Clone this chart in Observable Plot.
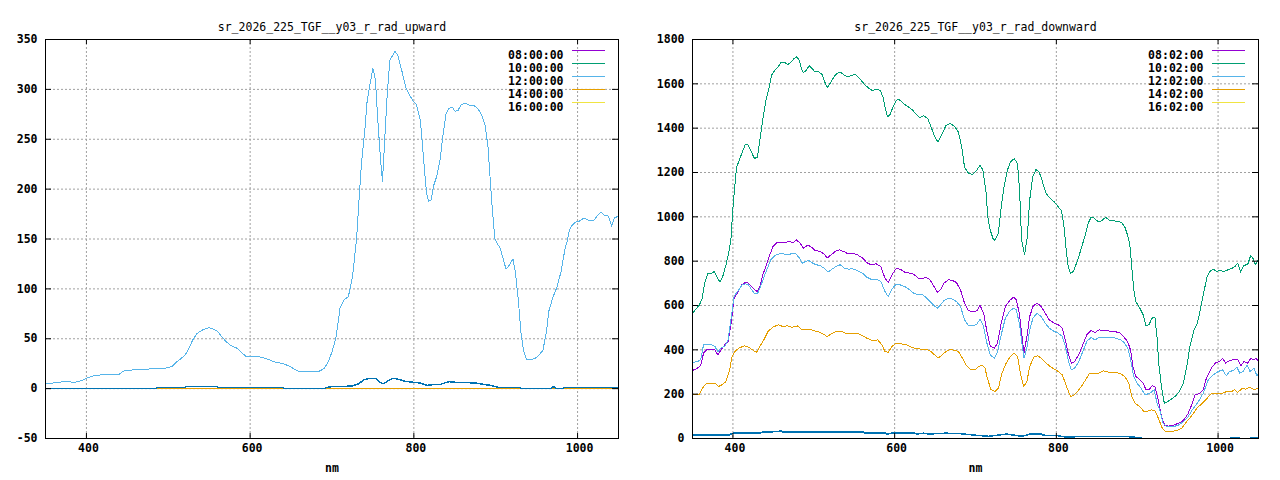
<!DOCTYPE html>
<html><head><meta charset="utf-8">
<script src="https://cdn.jsdelivr.net/npm/d3@7"></script>
<script src="https://cdn.jsdelivr.net/npm/@observablehq/plot@0.6"></script>
<style>
body{margin:0;background:#fff;}
#wrap{display:flex;width:1280px;height:480px;}
#wrap svg{display:block;}
</style></head><body><div id="wrap"></div>
<script>
// ---------- shared ----------
const xTicks = [400, 600, 800, 1000];
const xDomain = [350, 1050];
const COLORS = ["#9400d3", "#009e73", "#56b4e9", "#e69f00", "#f0e442", "#0072b2"];

// ---------- left panel: upward ----------
const upTitle = "sr_2026_225_TGF__y03_r_rad_upward";
const upLabels = ["08:00:00", "10:00:00", "12:00:00", "14:00:00", "16:00:00"];
const upYTicks = [-50, 0, 50, 100, 150, 200, 250, 300, 350];
const upYDomain = [-50, 350];
const up_08 = [[350,0],[1050,0]];
const up_10 = [[350,0],[1050,0]];
const up_12 = [[350,5],[360,5.7],[370,6.7],[380,6.7],[385,6.3],[390,7],[395,8.5],[400,10.3],[405,12],[410,13],[420,14],[440,14.5],[445,17.5],[450,18.3],[460,19],[470,19],[480,20],[490,19.7],[500,21],[505,22.3],[510,26.7],[520,33],[525,40],[530,49],[535,55],[540,58],[545,60],[550,61],[555,59.7],[560,57.7],[565,52.3],[570,47.7],[575,44],[580,42],[585,40],[590,35.7],[595,32.3],[600,32.3],[610,32.3],[615,31],[620,30],[630,26.7],[640,25],[645,23.5],[650,21.7],[655,19],[660,17.3],[670,17],[680,17],[685,17.7],[690,20],[695,26],[700,36.7],[705,51.7],[710,81.7],[715,89],[720,92.3],[725,111.7],[730,150],[733,189],[736,226],[740,258],[743,289],[746.6,306],[750,321],[753,310],[756,269],[759,233],[761.6,208],[764,243],[767,289],[770.6,329],[774,334],[777,338],[780.5,334],[785.5,318],[790.5,301],[795.5,293],[799.5,288],[803,285],[808,269],[812,229],[815.5,196],[818,188],[821,189],[824,203],[828,213],[832,229],[835.4,253],[839.4,276],[843,281],[847,282],[850.4,278],[854,279],[858,285],[863,286],[868,284],[873,284],[878,281],[883,274],[887,264],[890.5,243],[893,213],[895.6,183],[899,150],[902,145],[905,142],[908.5,132],[912.5,120],[916,123],[921,130],[924,117],[927.7,88],[931,55],[934,38],[937.6,29.3],[942.6,29],[947.6,30],[952.6,33.3],[957.6,38.3],[961.6,55],[965,78],[970,92],[975,102],[980,118],[985,142],[987.5,148],[990,159],[993.5,164],[997.5,167],[1002.5,168],[1007.5,171],[1012.5,169],[1016.5,168],[1020,169],[1024,173],[1028.5,177],[1032.5,174],[1037.5,173],[1041.5,163],[1045,171],[1050,173]];
const up_14 = [[350,0],[1050,0]];
const up_16 = [];
const up_extra = [[350,0],[485,0],[486,1],[520,1],[521,2],[560,2],[561,1],[640,1],[641,0],[690,0],[693,1],[700,2],[725,2.5],[727,3.3],[733,5],[739,9],[747,10.3],[753,10.3],[759,6],[763,5],[767.5,7.3],[773.7,10.3],[779.8,9.7],[790,7.3],[800,6.3],[808,5.7],[816,3.3],[824,4],[832.6,4.3],[842.7,7],[850.8,6.3],[865,6],[875,5.7],[885,4.3],[893.5,3.3],[901.7,1.7],[905,1],[930,1],[931,0],[968,0],[969,1.7],[972,1.7],[973,0],[982,0],[983,1],[1050,1]];

// ---------- right panel: downward ----------
const dnTitle = "sr_2026_225_TGF__y03_r_rad_downward";
const dnLabels = ["08:02:00", "10:02:00", "12:02:00", "14:02:00", "16:02:00"];
const dnYTicks = [0, 200, 400, 600, 800, 1000, 1200, 1400, 1600, 1800];
const dnYDomain = [0, 1800];
const dn_08 = [[350,307],[356,317],[360,328],[363.7,385],[367.7,400],[373.8,403],[377.8,400],[381.3,377],[383.9,392],[388.9,418],[394,438],[397.5,513],[401.5,633],[406.6,663],[410.6,693],[415.6,705],[419.2,701],[422.7,686],[426.7,671],[430.3,663],[433.3,686],[436.8,738],[440.8,776],[444.9,821],[449.4,866],[454.5,884],[459.5,886],[464.5,884],[469.6,889],[474.6,884],[478.7,896],[483.7,878],[487.2,859],[492.3,872],[496.3,866],[501.4,848],[507.4,844],[512.5,833],[516.5,814],[521.6,829],[526.6,844],[531.6,851],[536.7,844],[542.7,833],[548.8,836],[553.8,829],[560.4,814],[565.4,794],[570.4,784],[577,788],[583,776],[588,723],[592,704],[596.7,738],[601.7,766],[606.8,764],[612.3,751],[618.4,746],[623.4,741],[629.5,723],[634.5,720],[638.5,728],[643.6,716],[648.6,686],[652.6,660],[656.7,671],[661.2,701],[666.3,716],[671.3,713],[676.3,704],[681.4,671],[686.4,611],[691.5,576],[696.5,573],[701.6,576],[705.6,600],[710,566],[714.1,483],[718.2,418],[723.2,408],[727.2,430],[731.8,520],[736.9,596],[741.9,621],[747,638],[750.5,626],[754.5,558],[758,445],[760,388],[763.6,460],[767,550],[771.1,596],[776.1,611],[781.2,596],[786.2,566],[791.3,535],[797.4,520],[802.4,513],[807.4,498],[811,445],[815,378],[818.5,340],[822.6,347],[827.7,378],[832.7,423],[837.7,468],[842.8,487],[847.8,478],[852.8,490],[857.9,487],[862.9,486],[870.5,483],[878,478],[883,460],[888.1,438],[891.7,400],[894.7,325],[898.2,280],[903.3,265],[907.3,250],[910.8,220],[914.9,220],[918.4,238],[921.9,232],[925,190],[930,98],[934.2,60],[938.3,56],[944.4,60],[950.6,68],[954.8,75],[958.9,90],[963,113],[967.2,150],[971.2,195],[977.4,205],[981.5,218],[985,265],[988,290],[991.5,317],[996.5,340],[1001.6,347],[1005.6,362],[1009.2,340],[1014.2,352],[1019.2,355],[1024.3,355],[1028.3,328],[1031.8,347],[1036.9,340],[1040.4,362],[1043.4,355],[1047,362],[1050,347]];
const dn_10 = [[350,565],[353.5,580],[358.6,603],[362,633],[365,700],[368.7,743],[373.8,746],[377,753],[380,731],[384,705],[387.4,731],[391.4,783],[395.5,851],[397.5,897],[399.5,1015],[401.5,1105],[404.5,1225],[408,1256],[411.6,1293],[415.6,1328],[419,1323],[422.7,1293],[426.7,1263],[430.3,1270],[433.3,1346],[436.8,1436],[440.8,1526],[444.4,1579],[447.9,1639],[452,1662],[456,1677],[459.5,1696],[464.5,1695],[468,1687],[472,1699],[475.6,1714],[478.7,1722],[482,1707],[484.7,1669],[487.2,1650],[490.8,1662],[494.3,1681],[497.3,1672],[501.4,1654],[506,1654],[510,1644],[513.5,1609],[516.5,1583],[520,1601],[525,1632],[528.6,1647],[532.6,1654],[537.7,1639],[542.7,1632],[547.8,1639],[551.8,1642],[556.8,1624],[561.9,1601],[567,1583],[572,1571],[578,1574],[582,1571],[585.6,1541],[588,1496],[591,1451],[594,1459],[598,1496],[602,1526],[605.7,1529],[610.8,1511],[615.8,1499],[622.4,1481],[626.4,1463],[631,1448],[636,1456],[641,1444],[645,1406],[649.6,1361],[653.6,1338],[658.7,1376],[663.7,1413],[668.8,1421],[673.8,1409],[678.8,1383],[682.9,1316],[686.4,1225],[691.5,1195],[696.5,1192],[701.6,1210],[705.6,1233],[709,1213],[713,1113],[715.2,1000],[718.2,940],[721.7,902],[723.5,893],[728.3,925],[731.8,1045],[735.3,1135],[739.4,1210],[743.4,1248],[748,1263],[752,1240],[754.5,1120],[757,898],[760.6,829],[763.6,896],[764.6,940],[767,1075],[770.7,1180],[774.7,1213],[778.7,1203],[782.2,1165],[787.3,1105],[792.3,1083],[797.4,1068],[802.4,1045],[806.5,1027],[810,940],[812.5,836],[815,769],[817.5,746],[821,753],[825,791],[829,836],[832.7,881],[835.2,910],[839.2,970],[842.8,997],[846.3,997],[850.3,982],[854.4,977],[857.9,989],[861.4,997],[865.5,985],[870.5,982],[875.5,980],[880.6,974],[884.6,955],[888.1,917],[890.7,881],[893.2,776],[895.7,671],[898.2,618],[903.3,588],[907.3,558],[910.8,508],[914.4,513],[918.4,543],[921.9,547],[924.4,460],[927,325],[930,235],[933.5,159],[937.6,167],[942,177],[947,190],[952,212],[957.2,250],[961.3,325],[965.2,415],[970.3,490],[974.4,520],[978.9,596],[983,671],[986.5,731],[990,754],[994,764],[998,754],[1001.6,757],[1007.7,754],[1014.2,764],[1017.7,769],[1020.8,776],[1024.3,791],[1027.8,751],[1031.8,779],[1036.9,788],[1040.4,826],[1043.4,811],[1046,784],[1050,806]];
const dn_12 = [[350,343],[356,347],[360,355],[363.7,423],[368.7,426],[373.8,423],[377.8,415],[381.3,392],[385.4,408],[390.4,418],[394,445],[397.5,535],[401.5,643],[406.6,668],[411.6,693],[415.6,698],[419.2,693],[422.7,674],[426.7,653],[430.3,653],[434.3,686],[437.8,723],[441.9,761],[446.9,806],[452,826],[457,833],[462,833],[467.1,829],[472.1,833],[477.2,836],[482.2,814],[485.7,791],[489.8,799],[493.8,803],[497.3,794],[502.4,784],[507.4,781],[512.5,769],[517.5,751],[522.6,764],[527.6,776],[532.6,784],[537.7,769],[542.7,764],[547.8,766],[553.8,758],[560.4,746],[565.4,728],[570.4,719],[577,719],[583,708],[588,663],[592,641],[596.7,674],[601.7,696],[606.8,693],[612.3,686],[618.4,671],[623.4,656],[629.5,648],[634.5,648],[638.5,638],[643.6,618],[648.6,600],[652.6,588],[656.7,603],[661.2,623],[666.3,633],[671.3,629],[676.3,618],[681.4,596],[686.4,535],[691.5,508],[696.5,508],[701.6,516],[705.6,538],[710,505],[714.1,430],[718.2,377],[723.2,362],[727.2,388],[731.8,468],[736.9,543],[741.9,573],[747,588],[750.5,581],[754.5,513],[758,415],[760,362],[763.6,408],[767,490],[771.1,543],[776.1,566],[781.2,550],[786.2,520],[791.3,498],[797.4,483],[802.4,475],[807.4,460],[811,418],[815,347],[818.5,310],[822.6,317],[827.7,347],[832.7,392],[837.7,438],[842.8,456],[847.8,445],[852.8,456],[857.9,457],[865.5,457],[873,453],[879.6,445],[884.6,430],[889.1,400],[892.2,347],[895.7,280],[899.7,250],[904.7,227],[909.8,197],[915.9,205],[920.9,220],[924.5,159],[928,128],[932.1,68],[936.2,53],[944.4,53],[950.6,60],[956.8,75],[963,98],[969.1,135],[975.3,165],[981.5,203],[987.7,263],[993.8,286],[1000,302],[1005.6,310],[1010.2,283],[1014.2,302],[1019.2,307],[1023.3,322],[1026.8,295],[1030.8,302],[1035.9,332],[1039.4,302],[1044.4,317],[1048,283],[1050,295]];
const dn_14 = [[350,200],[358.6,200],[363.7,235],[367.7,250],[373.8,247],[377.8,250],[382.3,235],[386.4,242],[391.4,257],[395.5,302],[399,370],[402.5,393],[407.6,408],[414.1,418],[419.2,412],[424.2,400],[429.2,388],[433.3,415],[438.3,445],[443.4,483],[449.4,502],[456,513],[462,505],[467.1,508],[473.2,502],[479.7,508],[484.7,493],[489.8,490],[494.8,493],[499.8,486],[504.9,483],[509.9,475],[516.5,460],[522.6,475],[528.6,483],[535.2,483],[540.2,472],[547.8,475],[555.3,472],[561.9,460],[567,450],[573,442],[579,445],[584.1,423],[588,393],[592,388],[596.7,415],[602.2,430],[608.3,427],[614.3,423],[620.9,412],[627.5,405],[633.5,403],[639.5,403],[644.6,393],[649.6,377],[653.6,362],[658.7,377],[663.7,393],[668.8,403],[673.8,397],[678.8,393],[683.9,362],[689,328],[694,310],[699.1,310],[704.1,325],[708.1,332],[711.7,317],[715.2,265],[719.2,220],[724.3,212],[728.3,227],[732.8,295],[737.9,340],[742.9,370],[748,385],[752,370],[755.5,295],[759.6,235],[763.6,257],[767,325],[772.1,367],[777.2,373],[782.2,359],[787.3,340],[792.3,325],[797.4,313],[802.4,302],[807.4,287],[812.5,235],[817.5,190],[821,193],[826.1,212],[831.1,235],[836.2,265],[841.2,295],[847.8,295],[852.8,295],[857.9,305],[865.5,298],[873,298],[879.6,292],[884.6,280],[889.6,250],[893.2,190],[897.2,159],[903.3,144],[908.3,122],[912.3,122],[917.4,129],[921.9,126],[926,92],[931,47],[935,32],[941,32],[948.6,35],[955.2,47],[961.3,77],[967.3,102],[973.9,137],[980.4,159],[986.5,182],[991.5,202],[997.5,205],[1004,202],[1010.7,212],[1016.6,212],[1020.8,220],[1024.3,208],[1029.3,224],[1034.4,223],[1039.4,232],[1044.4,220],[1050,227]];
const dn_16 = [];
const dn_extra = [[350,15],[394.8,15],[397,20],[401,24],[434,24],[436,29],[455,31],[457,33],[460,33],[462,29],[561.5,29],[563.6,24],[588.3,24],[590.4,20],[596.5,24],[625.3,24],[627.4,20],[635.6,24],[641.8,20],[662.3,24],[681,22],[693.5,17],[716,10],[738.8,20],[757.3,10],[767.5,20],[782,20],[783,15],[800.5,13],[812.8,6],[829.3,9],[887,9],[905.4,3],[906,0],[1015,0],[1016,3],[1026,3],[1027,0],[1040,0],[1041,3],[1050,3]];

// ---------- drawing ----------
const FONT = "'DejaVu Sans Mono', 'Liberation Mono', monospace";
const FS = 11.5;
// legend swatch: a short horizontal line drawn as a custom symbol
const swatchSymbol = {draw(context) { context.moveTo(-16.5, 0); context.lineTo(16.5, 0); }};

function panel({title, labels, series, yDomain, yTicks, ml, mr}) {
  const W = 640, H = 480, mt = 39, mb = 42;
  const iw = W - ml - mr, ih = H - mt - mb;
  const txt = {fontFamily: FONT, fontSize: FS, fill: "black"};
  const marks = [
    Plot.gridX(xTicks, {stroke: "#a0a0a0", strokeOpacity: 1, strokeDasharray: "2,2"}),
    Plot.gridY(yTicks, {stroke: "#a0a0a0", strokeOpacity: 1, strokeDasharray: "2,2"})
  ];
  series.forEach((s, i) => {
    if (s.length) marks.push(Plot.line(s, {x: d => d[0], y: d => d[1], stroke: COLORS[i], strokeWidth: i === 5 ? 1.5 : 1, curve: "linear", shapeRendering: "crispEdges"}));
  });
  // border ticks (inward, mirrored)
  marks.push(
    Plot.tickX(xTicks, {x: d => d, insetTop: ih - 5, stroke: "black"}),
    Plot.tickX(xTicks, {x: d => d, insetBottom: ih - 5, stroke: "black"}),
    Plot.tickY(yTicks, {y: d => d, insetRight: iw - 6, stroke: "black"}),
    Plot.tickY(yTicks, {y: d => d, insetLeft: iw - 6, stroke: "black"}),
    Plot.frame({stroke: "black", strokeWidth: 1})
  );
  // tick labels, title, axis label
  marks.push(
    Plot.text(xTicks, {x: d => d, text: d => String(d), frameAnchor: "bottom", dy: 13.5, dx: 2, fontWeight: "bold", ...txt}),
    Plot.text(yTicks, {y: d => d, text: d => String(d), frameAnchor: "left", dx: -8, textAnchor: "end", fontWeight: "bold", ...txt}),
    Plot.text([title], {frameAnchor: "top", dy: -17, ...txt}),
    Plot.text(["nm"], {frameAnchor: "bottom", dy: 33, fontWeight: "bold", ...txt})
  );
  // legend
  labels.forEach((lab, i) => {
    marks.push(
      Plot.text([lab], {frameAnchor: "top-right", dx: -55, dy: 11.5 + 13 * i, textAnchor: "end", fontWeight: "bold", ...txt}),
      Plot.dot([lab], {frameAnchor: "top-right", dx: -30, dy: 11 + 13 * i, symbol: swatchSymbol, r: 4, fill: "none", stroke: COLORS[i], strokeWidth: 1, shapeRendering: "crispEdges"})
    );
  });
  return Plot.plot({
    width: W, height: H,
    marginLeft: ml, marginRight: mr, marginTop: mt, marginBottom: mb,
    style: {fontFamily: FONT, background: "white", overflow: "visible"},
    x: {domain: xDomain, axis: null},
    y: {domain: yDomain, axis: null},
    marks
  });
}

const wrap = document.getElementById("wrap");
wrap.appendChild(panel({
  title: upTitle, labels: upLabels,
  series: [up_08, up_10, up_12, up_14, up_16, up_extra],
  yDomain: upYDomain, yTicks: upYTicks, ml: 45, mr: 22
}));
wrap.appendChild(panel({
  title: dnTitle, labels: dnLabels,
  series: [dn_08, dn_10, dn_12, dn_14, dn_16, dn_extra],
  yDomain: dnYDomain, yTicks: dnYTicks, ml: 52, mr: 22
}));
</script></body></html>
